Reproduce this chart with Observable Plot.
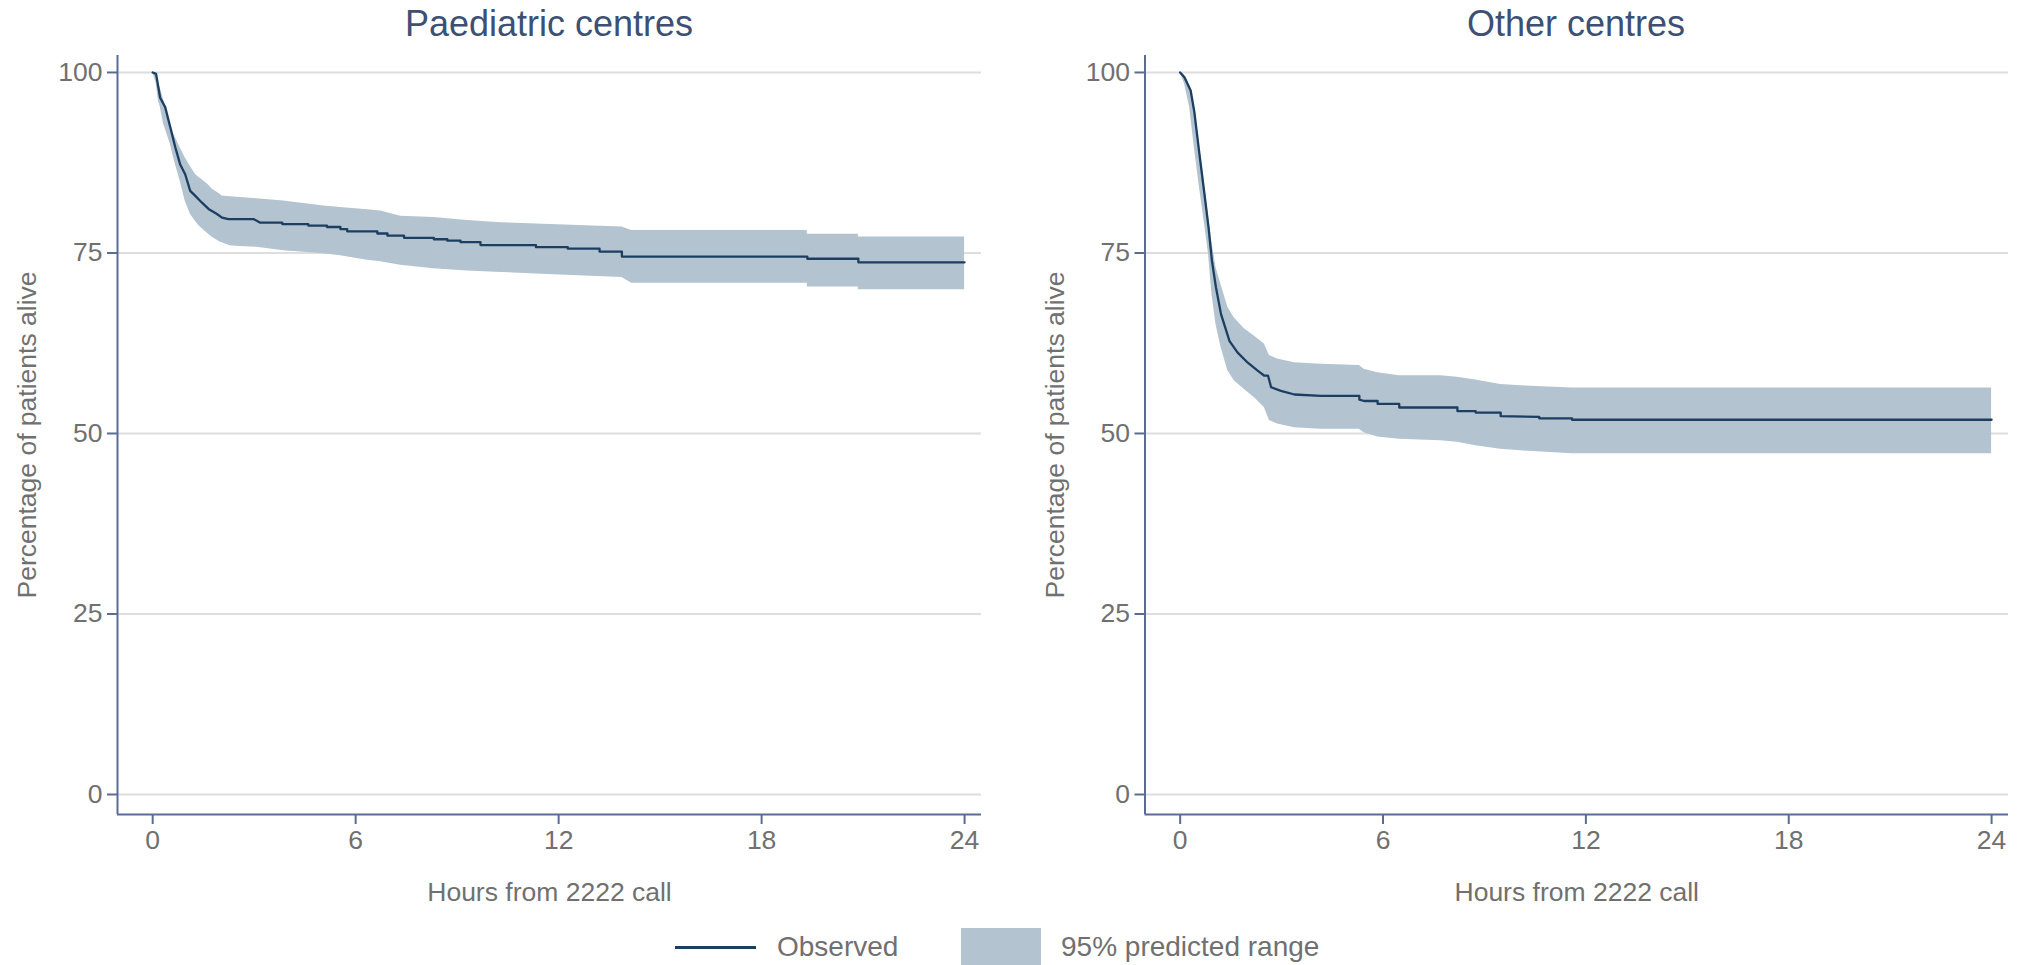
<!DOCTYPE html>
<html>
<head>
<meta charset="utf-8">
<script src="https://cdn.jsdelivr.net/npm/d3@7"></script>
<script src="https://cdn.jsdelivr.net/npm/@observablehq/plot@0.6"></script>
<style>
  html, body { margin: 0; padding: 0; background: #ffffff; }
  body { width: 2030px; height: 965px; position: relative; overflow: hidden; font-family: "Liberation Sans", Arial, sans-serif; }
  .panel { position: absolute; top: 0; }
  .title { position: absolute; top: 6px; font-size: 36px; line-height: 1; color: #3d5073; white-space: nowrap; transform: translateX(-50%); }
  .leg-text { position: absolute; top: 933px; font-size: 28px; line-height: 1; color: #707070; white-space: nowrap; }
  .leg-line { position: absolute; left: 675px; top: 946px; width: 81px; height: 3px; background: #1c3f61; }
  .leg-box { position: absolute; left: 961px; top: 928px; width: 80px; height: 40px; background: #b3c3d0; }
</style>
</head>
<body>
<div id="left" class="panel" style="left:0px"></div>
<div id="right" class="panel" style="left:1015px"></div>
<div class="title" style="left:549px">Paediatric centres</div>
<div class="title" style="left:1576px">Other centres</div>
<div class="leg-line"></div>
<div class="leg-text" style="left:777px">Observed</div>
<div class="leg-box"></div>
<div class="leg-text" style="left:1061px">95% predicted range</div>
<script>
// ---- Data ----
const hoursTicks = [0, 6, 12, 18, 24];
const pctTicks = [0, 25, 50, 75, 100];
const xLabel = "Hours from 2222 call";
const yLabel = "Percentage of patients alive";

// Paediatric centres: observed survival
const paedObsHours = [0, 0.1, 0.22, 0.37, 0.52, 0.67, 0.81, 0.96, 1.11, 1.26, 1.45, 1.65, 1.9, 2.05, 2.24, 2.98, 3.18, 3.83, 3.83, 4.07, 4.6, 4.6, 5.15, 5.15, 5.55, 5.55, 5.75, 5.75, 6.64, 6.64, 6.94, 6.94, 7.43, 7.43, 8.31, 8.31, 8.71, 8.71, 9.1, 9.1, 9.69, 9.69, 11.33, 11.33, 12.27, 12.27, 13.21, 13.21, 13.87, 13.87, 19.35, 19.35, 20.86, 20.86, 24];
const paedObsPct   = [100, 99.8, 96.5, 95.2, 92.4, 89.6, 87.3, 85.9, 83.6, 82.9, 82.0, 81.1, 80.4, 79.9, 79.7, 79.7, 79.2, 79.2, 79.0, 79.0, 79.0, 78.8, 78.8, 78.6, 78.6, 78.3, 78.3, 78.0, 78.0, 77.7, 77.7, 77.4, 77.4, 77.1, 77.1, 76.9, 76.9, 76.7, 76.7, 76.5, 76.5, 76.1, 76.1, 75.8, 75.8, 75.6, 75.6, 75.2, 75.2, 74.5, 74.5, 74.2, 74.2, 73.7, 73.7];
// Paediatric centres: 95% predicted range
const paedBandHours = [0, 0.1, 0.17, 0.22, 0.32, 0.42, 0.52, 0.62, 0.67, 0.81, 0.96, 1.01, 1.11, 1.26, 1.36, 1.5, 1.65, 1.75, 2.0, 2.05, 2.29, 2.59, 3.08, 3.87, 5.05, 5.55, 6.35, 6.74, 7.33, 8.31, 9.3, 10.3, 11.33, 13.87, 14.16, 19.35, 19.35, 20.86, 20.86, 24];
const paedBandLow  = [100, 98.6, 96.1, 95.3, 92.9, 91.5, 90.1, 88.2, 87.3, 85.0, 82.2, 81.6, 80.4, 79.4, 78.8, 78.2, 77.6, 77.2, 76.5, 76.4, 76.0, 75.9, 75.8, 75.3, 74.9, 74.6, 74.0, 73.8, 73.3, 72.8, 72.5, 72.3, 72.1, 71.6, 70.8, 70.8, 70.3, 70.3, 69.9, 69.9];
const paedBandHigh = [100, 99.6, 98.6, 97.9, 96.3, 94.7, 93.1, 91.5, 91.0, 89.6, 88.2, 87.8, 87.0, 85.9, 85.5, 85.0, 84.4, 83.9, 83.1, 82.9, 82.8, 82.7, 82.5, 82.2, 81.5, 81.3, 81.0, 80.8, 80.1, 79.9, 79.5, 79.2, 79.0, 78.6, 78.1, 78.1, 77.6, 77.6, 77.2, 77.2];

// Other centres: observed survival
const otherObsHours = [0, 0.13, 0.31, 0.42, 0.57, 0.72, 0.84, 0.94, 1.06, 1.21, 1.46, 1.7, 2.0, 2.29, 2.49, 2.6, 2.69, 2.98, 3.38, 4.16, 5.3, 5.3, 5.44, 5.84, 5.84, 6.48, 6.48, 8.2, 8.2, 8.74, 8.74, 9.48, 9.48, 10.62, 10.62, 11.59, 11.59, 24];
const otherObsPct   = [100, 99.3, 97.5, 94.5, 88.7, 83.1, 78.5, 73.9, 70.2, 66.5, 62.8, 61.2, 59.8, 58.7, 58.0, 58.0, 56.4, 55.9, 55.4, 55.2, 55.2, 54.7, 54.5, 54.5, 54.1, 54.1, 53.6, 53.6, 53.1, 53.1, 52.9, 52.9, 52.4, 52.3, 52.1, 52.1, 51.9, 51.9];
// Other centres: 95% predicted range
const otherBandHours = [0, 0.13, 0.28, 0.42, 0.57, 0.72, 0.84, 0.94, 1.06, 1.21, 1.41, 1.6, 1.9, 2.19, 2.49, 2.64, 2.88, 3.38, 4.16, 5.3, 5.44, 5.84, 6.48, 7.71, 8.2, 8.74, 9.48, 10.07, 11.59, 24];
const otherBandLow  = [100, 98.4, 95.2, 89.6, 84.1, 79.0, 74.8, 69.3, 65.1, 61.9, 58.7, 57.3, 56.1, 55.0, 53.6, 51.8, 51.3, 50.8, 50.6, 50.6, 50.1, 49.5, 49.2, 49.0, 48.8, 48.3, 47.8, 47.6, 47.2, 47.2];
const otherBandHigh = [100, 99.6, 98.2, 95.5, 90.0, 84.5, 80.0, 76.5, 73.0, 70.6, 67.5, 66.0, 64.5, 63.5, 62.4, 60.8, 60.3, 59.8, 59.6, 59.4, 58.9, 58.4, 58.0, 58.0, 57.8, 57.4, 56.8, 56.6, 56.3, 56.3];

// ---- Styling ----
const xDomain = [-1.04, 24.5];
const yDomain = [-2.77, 102.35];
const lineColor = "#1c3f61";
const bandColor = "#b3c3d0";
const axisColor = "#5b6c94";
const gridColor = "#dedede";
const textColor = "#707070";
const fontFamily = '"Liberation Sans", Arial, sans-serif';

function panel(obsH, obsV, bandH, bandLo, bandHi, marginLeft, marginRight) {
  const obs = obsH.map((h, i) => ({h, v: obsV[i]}));
  const band = bandH.map((h, i) => ({h, lo: bandLo[i], hi: bandHi[i]}));
  return Plot.plot({
    width: 1015,
    height: 900,
    marginTop: 55,
    marginBottom: 86,
    marginLeft,
    marginRight,
    x: {domain: xDomain},
    y: {domain: yDomain},
    style: {fontFamily, background: "transparent", overflow: "visible"},
    marks: [
      Plot.gridY(pctTicks, {stroke: gridColor, strokeOpacity: 1, strokeWidth: 2}),
      Plot.areaY(band, {x: "h", y1: "lo", y2: "hi", fill: bandColor, fillOpacity: 1}),
      Plot.line(obs, {x: "h", y: "v", stroke: lineColor, strokeWidth: 2.3}),
      Plot.ruleX([xDomain[0]], {stroke: axisColor, strokeWidth: 2}),
      Plot.ruleY([yDomain[0]], {stroke: axisColor, strokeWidth: 2}),
      Plot.axisX({
        ticks: hoursTicks, tickSize: 10, tickPadding: 6, tickFormat: d => String(d),
        stroke: axisColor, strokeWidth: 2, fill: textColor, color: textColor,
        fontSize: 26.5, label: xLabel, labelAnchor: "center", labelOffset: 86, labelArrow: "none"
      }),
      Plot.axisY({
        ticks: pctTicks, tickSize: 10, tickPadding: 5, tickFormat: d => String(d),
        stroke: axisColor, strokeWidth: 2, fill: textColor, color: textColor,
        fontSize: 26.5, label: yLabel, labelAnchor: "center", labelOffset: 100, labelArrow: "none"
      })
    ]
  });
}

document.getElementById("left").append(
  panel(paedObsHours, paedObsPct, paedBandHours, paedBandLow, paedBandHigh, 117, 34)
);
document.getElementById("right").append(
  panel(otherObsHours, otherObsPct, otherBandHours, otherBandLow, otherBandHigh, 129.5, 22)
);
</script>
</body>
</html>
